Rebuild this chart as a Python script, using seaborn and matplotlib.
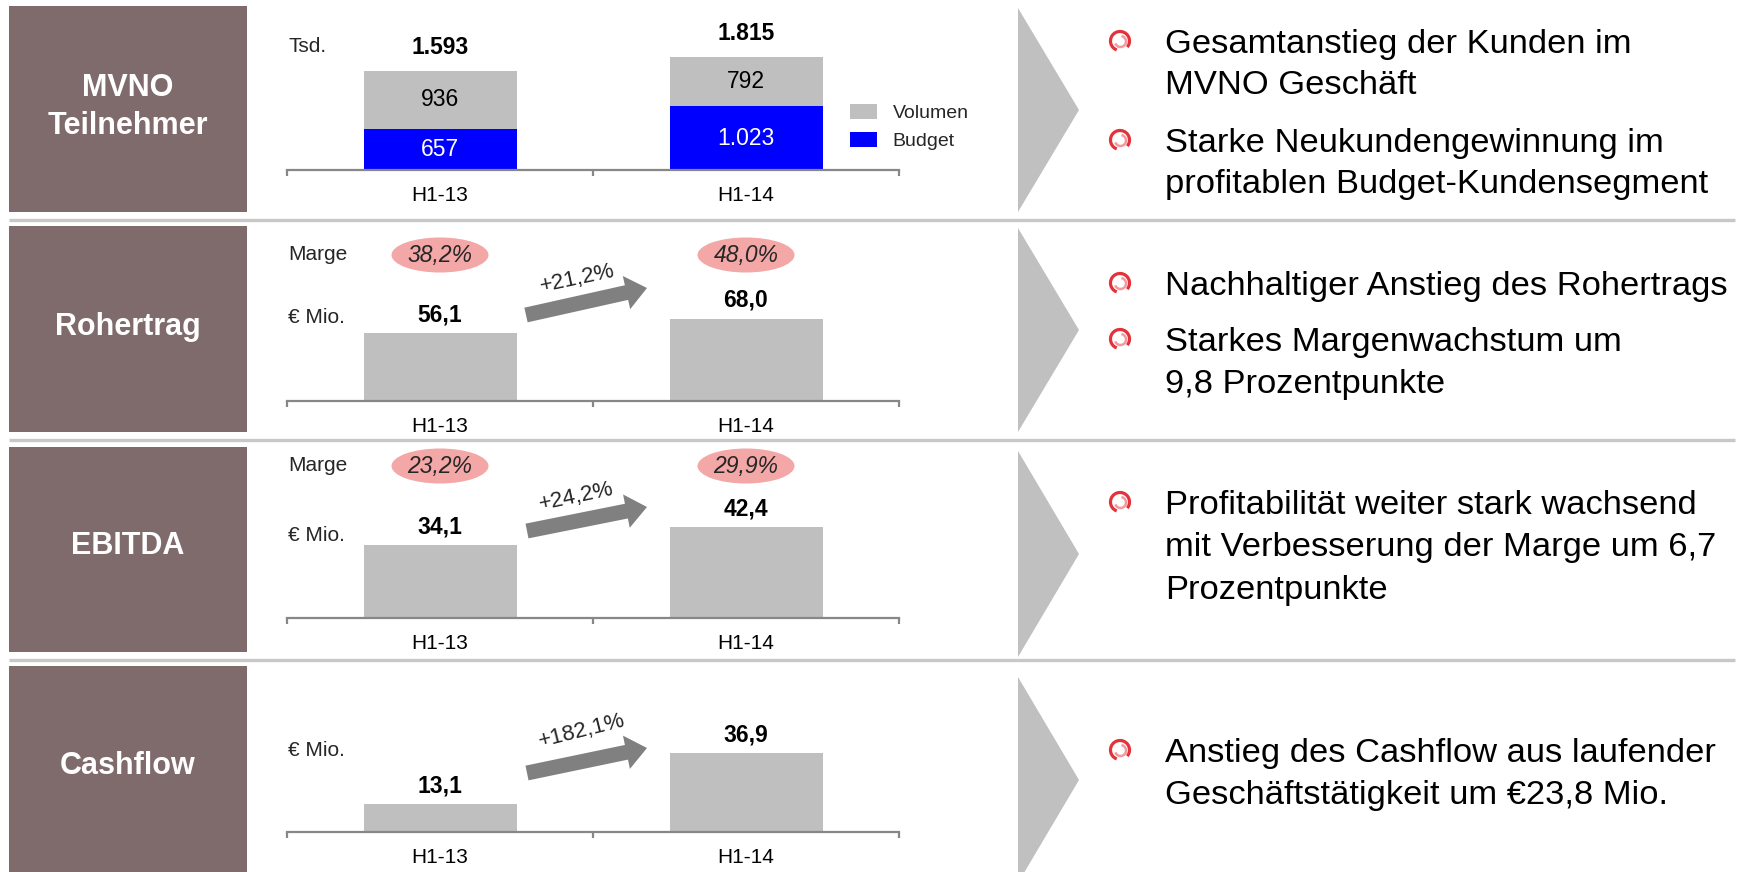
import matplotlib
matplotlib.use("Agg")
import matplotlib.pyplot as plt
import seaborn as sns
from matplotlib.patches import Rectangle, Polygon, Ellipse, Arc, FancyArrow

# ---------------- data ----------------
periods = ["H1-13", "H1-14"]

mvno_budget = [657, 1023]
mvno_volumen = [936, 792]

rohertrag = [56.1, 68.0]
rohertrag_marge = [38.2, 48.0]

ebitda = [34.1, 42.4]
ebitda_marge = [23.2, 29.9]

cashflow = [13.1, 36.9]

growth_pct = [21.2, 24.2, 182.1]   # Rohertrag, EBITDA, Cashflow

panel_titles = ["MVNO\nTeilnehmer", "Rohertrag", "EBITDA", "Cashflow"]
units = ["Tsd.", "€ Mio.", "€ Mio.", "€ Mio."]

notes = [
    [["Gesamtanstieg der Kunden im", "MVNO Geschäft"],
     ["Starke Neukundengewinnung im", "profitablen Budget-Kundensegment"]],
    [["Nachhaltiger Anstieg des Rohertrags"],
     ["Starkes Margenwachstum um", "9,8 Prozentpunkte"]],
    [["Profitabilität weiter stark wachsend",
      "mit Verbesserung der Marge um 6,7", "Prozentpunkte"]],
    [["Anstieg des Cashflow aus laufender",
      "Geschäftstätigkeit um €23,8 Mio."]],
]

# ---------------- style ----------------
sns.set_style("white")
plt.rcParams["font.family"] = ["Liberation Sans", "DejaVu Sans"]

W, H = 1742, 872
GREY_BAR = "#bfbfbf"
BLUE = "#0000ff"
BOX = "#7f6b6b"
AXIS_GREY = "#878787"
PINK = "#f4a7a7"
ARROW_GREY = "#808080"
RED = "#e4323a"


def de_int(v):
    return f"{v:,}".replace(",", ".")


def de_dec(v):
    return f"{v:.1f}".replace(".", ",")


fig = plt.figure(figsize=(W / 100, H / 100), dpi=100)
fig.patch.set_facecolor("white")

# full-figure pixel canvas for the slide furniture
bg = fig.add_axes([0, 0, 1, 1], zorder=0)
bg.set_xlim(0, W)
bg.set_ylim(H, 0)
bg.axis("off")

box_spans = [(6, 212), (226, 432), (447, 652), (666, 872)]
chevron_spans = [(8, 212), (228, 432), (451, 657), (677, 883)]
title_y = [107, 327, 546, 766]

for i in range(4):
    y0, y1 = box_spans[i]
    bg.add_patch(Rectangle((9, y0), 238, y1 - y0, color=BOX, lw=0))
    bg.text(128, title_y[i], panel_titles[i], color="white", fontsize=22,
            fontweight="bold", ha="center", va="center", linespacing=1.35)
    c0, c1 = chevron_spans[i]
    bg.add_patch(Polygon([(1018, c0), (1079, (c0 + c1) / 2), (1018, c1)],
                         closed=True, color="#c0c0c0", lw=0))

for y in [220, 440, 660]:
    bg.plot([9, 1735], [y, y], color="#c8c8c8", lw=2.4, solid_capstyle="butt")

# bullet notes on the right
note_line_y = [
    [[41, 82], [140, 181]],
    [[283], [339, 381]],
    [[502, 544, 587]],
    [[750, 792]],
]
NOTE_PX = 34.5
for r, bullets in enumerate(notes):
    for b, lines in enumerate(bullets):
        for k, line in enumerate(lines):
            yc = note_line_y[r][b][k]
            bg.text(1165, yc + 0.36 * NOTE_PX, line, fontsize=NOTE_PX * 0.72,
                    ha="left", va="baseline", color="black")
        yb = note_line_y[r][b][0]
        # swirl bullet: red outer stroke with a paler inner turn
        bg.add_patch(Arc((1120, yb), 19, 19, theta1=110, theta2=400,
                         color=RED, lw=2.3))
        bg.add_patch(Arc((1120.5, yb + 0.5), 11, 11, theta1=280, theta2=520,
                         color="#f29aa0", lw=1.8))


# ---------------- charts ----------------
AX_L, AX_W = 287, 612


def chart_axes(top_px, base_px):
    ax = fig.add_axes([AX_L / W, 1 - base_px / H, AX_W / W,
                       (base_px - top_px) / H], zorder=2)
    ax.patch.set_alpha(0)
    return ax


def style_axis(ax, ymax):
    ax.set_xlim(-0.5, 1.5)
    ax.set_ylim(0, ymax)
    for s in ["top", "right", "left"]:
        ax.spines[s].set_visible(False)
    ax.spines["bottom"].set_color(AXIS_GREY)
    ax.spines["bottom"].set_linewidth(1.6)
    ax.set_yticks([])
    ax.set_xticks([0, 1])
    ax.set_xticklabels(periods)
    ax.set_xticks([-0.5, 0.5, 1.5], minor=True)
    ax.tick_params(axis="x", which="major", bottom=False, length=0, pad=11.5,
                   labelsize=15, labelcolor="black")
    ax.tick_params(axis="x", which="minor", bottom=True, length=4.5,
                   width=1.6, color=AXIS_GREY, direction="out")
    ax.set_xlabel("")
    ax.set_ylabel("")


def value_labels(ax, values, fmt, offset_pt):
    for i, v in enumerate(values):
        ax.annotate(fmt(v), (i, v), xytext=(0, offset_pt),
                    textcoords="offset points", ha="center", va="center",
                    fontsize=16.5, fontweight="bold", color="black")


# panel 1: MVNO subscribers (stacked)
mvno_total = [b + v for b, v in zip(mvno_budget, mvno_volumen)]
ax1 = chart_axes(10, 170)
sns.barplot(x=periods, y=mvno_total, color=GREY_BAR, width=0.5,
            saturation=1, linewidth=0, errorbar=None, label="Volumen", ax=ax1)
sns.barplot(x=periods, y=mvno_budget, color=BLUE, width=0.5,
            saturation=1, linewidth=0, errorbar=None, label="Budget", ax=ax1)
style_axis(ax1, 2570)
for i in range(len(periods)):
    ax1.text(i, mvno_budget[i] / 2, de_int(mvno_budget[i]), color="white",
             fontsize=16.5, ha="center", va="center")
    ax1.text(i, mvno_budget[i] + mvno_volumen[i] / 2, de_int(mvno_volumen[i]),
             color="black", fontsize=16.5, ha="center", va="center")
value_labels(ax1, mvno_total, de_int, 17)
ax1.legend(loc="upper left", bbox_to_anchor=(850 / W, 1 - 104 / H),
           bbox_transform=fig.transFigure, frameon=False, borderpad=0,
           borderaxespad=0, handlelength=1.4, handleheight=0.8,
           handletextpad=0.8, labelspacing=0.5, fontsize=14)

# panels 2-4: single bars
single = [
    (rohertrag, 230, 401, 141),
    (ebitda, 450, 618, 78.5),
    (cashflow, 670, 832, 75.7),
]
for vals, top, base, ymax in single:
    ax = chart_axes(top, base)
    sns.barplot(x=periods, y=vals, color=GREY_BAR, width=0.5, saturation=1,
                linewidth=0, errorbar=None, ax=ax)
    style_axis(ax, ymax)
    value_labels(ax, vals, de_dec, 13)

# unit captions
unit_y = [47, 317, 535, 750]
for r in range(4):
    bg.text(288, unit_y[r], units[r], fontsize=15, ha="left", va="center")

# margin bubbles
cat_x = [440, 746]
for marge, y in [(rohertrag_marge, 255), (ebitda_marge, 466)]:
    bg.text(288, y - 1, "Marge", fontsize=15, ha="left", va="center")
    for i, m in enumerate(marge):
        bg.add_patch(Ellipse((cat_x[i], y), 97, 35, color=PINK, lw=0))
        bg.text(cat_x[i], y, de_dec(m) + "%", fontsize=16.5, style="italic",
                ha="center", va="center")

# growth arrows
arrow_geo = [((526, 315), (647, 288), (577, 279), 12),
             ((527, 531), (647, 507), (576, 497), 12),
             ((527, 773), (647, 748), (582, 731), 14)]
for g, (tail, tip, txt, rot) in zip(growth_pct, arrow_geo):
    bg.add_patch(FancyArrow(tail[0], tail[1], tip[0] - tail[0], tip[1] - tail[1],
                            width=15, head_width=34, head_length=21,
                            length_includes_head=True, color=ARROW_GREY, lw=0))
    bg.text(txt[0], txt[1], "+" + de_dec(g) + "%", fontsize=16,
            rotation=rot, rotation_mode="anchor", ha="center", va="center")

fig.savefig("out.png", dpi=100)
